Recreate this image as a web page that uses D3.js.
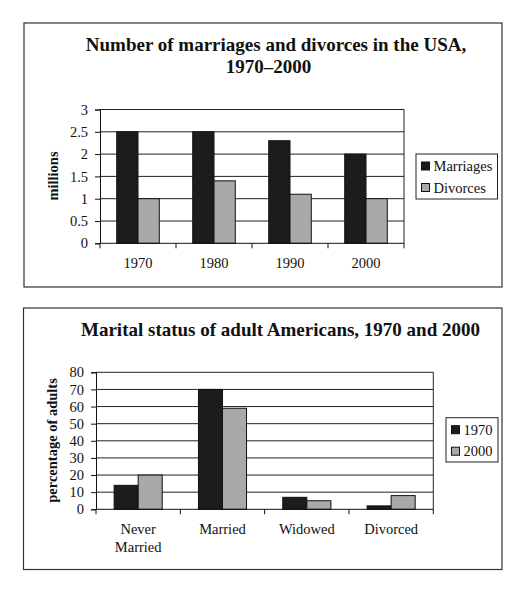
<!DOCTYPE html>
<html><head>
<meta charset="utf-8">
<script src="https://d3js.org/d3.v7.min.js"></script>
<style>
  body { margin: 0; background: #fff; }
  svg text { font-family: "Liberation Serif", "Times New Roman", serif; fill: #111; }
</style>
</head>
<body>
<svg id="chart" width="530" height="602"></svg>
<script>
// chart 1: marriages and divorces (millions)
const years = ["1970", "1980", "1990", "2000"];
const marriages = [2.5, 2.5, 2.3, 2.0];
const divorces = [1.0, 1.4, 1.1, 1.0];
const series1 = ["Marriages", "Divorces"];
const ticks1 = [0, 0.5, 1, 1.5, 2, 2.5, 3];

// chart 2: marital status (% of adults)
const statuses = ["Never Married", "Married", "Widowed", "Divorced"];
const pct1970 = [14, 70, 7, 2];
const pct2000 = [20, 59, 5, 8];
const series2 = ["1970", "2000"];
const ticks2 = [0, 10, 20, 30, 40, 50, 60, 70, 80];

const colors = ["#1c1c1c", "#a9a9a9"];
const svg = d3.select("#chart");

function drawChart(cfg) {
  const g = svg.append("g");

  // outer frame
  g.append("rect")
    .attr("x", cfg.frame[0]).attr("y", cfg.frame[1])
    .attr("width", cfg.frame[2] - cfg.frame[0]).attr("height", cfg.frame[3] - cfg.frame[1])
    .attr("fill", "none").attr("stroke", "#333").attr("stroke-width", 1.2);

  // title lines
  cfg.title.forEach((t, i) => {
    g.append("text")
      .attr("x", t.x).attr("y", t.y)
      .attr("text-anchor", "middle")
      .style("font-weight", "bold").style("font-size", cfg.titleSize + "px")
      .text(t.text);
  });

  const x0 = d3.scaleBand().domain(cfg.cats).range([cfg.left, cfg.right]);
  const bw = x0.bandwidth();
  const x1 = d3.scaleBand().domain(cfg.series).range([bw * cfg.gap, bw * (1 - cfg.gap)]);
  const y = d3.scaleLinear().domain([0, cfg.ymax]).range([cfg.bottom, cfg.top]);

  // gridlines
  g.append("g").selectAll("line").data(cfg.ticks.slice(1)).join("line")
    .attr("x1", cfg.left).attr("x2", cfg.right)
    .attr("y1", d => y(d)).attr("y2", d => y(d))
    .attr("stroke", "#222").attr("stroke-width", 1);
  // right border
  g.append("line")
    .attr("x1", cfg.right).attr("x2", cfg.right)
    .attr("y1", cfg.top).attr("y2", cfg.bottom)
    .attr("stroke", "#222");

  // bars
  const groups = g.append("g").selectAll("g").data(cfg.cats).join("g")
    .attr("transform", d => `translate(${x0(d)},0)`);
  groups.selectAll("rect")
    .data((d, i) => cfg.series.map((s, j) => ({ s: s, v: cfg.values[j][i] })))
    .join("rect")
    .attr("x", d => x1(d.s)).attr("width", x1.bandwidth())
    .attr("y", d => y(d.v)).attr("height", d => y(0) - y(d.v))
    .attr("fill", (d, j) => colors[j])
    .attr("stroke", "#111").attr("stroke-width", 1);

  // y axis
  const yAxis = g.append("g")
    .attr("transform", `translate(${cfg.left},0)`)
    .call(d3.axisLeft(y).tickValues(cfg.ticks).tickSize(5).tickPadding(7).tickFormat(d3.format("")));
  yAxis.select(".domain").attr("stroke", "#111");
  yAxis.selectAll(".tick line").attr("stroke", "#111");
  yAxis.selectAll(".tick text").style("font-size", "14.5px").attr("fill", "#111");

  // x axis: ticks at category boundaries
  g.append("line")
    .attr("x1", cfg.left).attr("x2", cfg.right)
    .attr("y1", cfg.bottom).attr("y2", cfg.bottom)
    .attr("stroke", "#111");
  const bounds = cfg.cats.map(c => x0(c)).concat([cfg.right]);
  g.append("g").selectAll("line").data(bounds).join("line")
    .attr("x1", d => d).attr("x2", d => d)
    .attr("y1", cfg.bottom).attr("y2", cfg.bottom + 5)
    .attr("stroke", "#111");
  const labels = g.append("g").selectAll("text").data(cfg.cats).join("text")
    .attr("x", d => x0(d) + bw / 2)
    .attr("y", cfg.bottom + 25)
    .attr("text-anchor", "middle")
    .style("font-size", "14.5px");
  labels.each(function(d) {
    const words = d.split(" ");
    const t = d3.select(this);
    words.forEach((w, i) => {
      t.append("tspan").attr("x", x0(d) + bw / 2).attr("dy", i === 0 ? 0 : 17.7).text(w);
    });
  });

  // y axis label
  g.append("text")
    .attr("transform", `translate(${cfg.ylabX},${cfg.ylabY}) rotate(-90)`)
    .attr("text-anchor", "middle")
    .style("font-weight", "bold").style("font-size", "14.5px")
    .text(cfg.ylabel);

  // legend
  const L = cfg.legend;
  g.append("rect")
    .attr("x", L.x).attr("y", L.y).attr("width", L.w).attr("height", L.h)
    .attr("fill", "#fff").attr("stroke", "#222").attr("stroke-width", 1);
  cfg.series.forEach((s, j) => {
    g.append("rect")
      .attr("x", L.x + 5.5).attr("y", L.y + 8 + j * 21.5)
      .attr("width", 8).attr("height", 8)
      .attr("fill", colors[j]).attr("stroke", "#111");
    g.append("text")
      .attr("x", L.x + 17.5).attr("y", L.y + 17 + j * 21.5)
      .style("font-size", "14.5px")
      .text(s);
  });
}

drawChart({
  frame: [24, 23, 502, 287],
  title: [
    { text: "Number of marriages and divorces in the USA,", x: 276, y: 51 },
    { text: "1970\u20132000", x: 268.5, y: 73 }
  ],
  titleSize: 19,
  cats: years, series: series1, values: [marriages, divorces],
  ymax: 3, ticks: ticks1,
  left: 100, right: 404, top: 109.5, bottom: 243.3, gap: 0.22,
  ylabel: "millions", ylabX: 58, ylabY: 176,
  legend: { x: 416, y: 154, w: 81.5, h: 45 }
});

drawChart({
  frame: [23.5, 308, 502, 569.5],
  title: [
    { text: "Marital status of adult Americans, 1970 and 2000", x: 280.5, y: 335.5 }
  ],
  titleSize: 19,
  cats: statuses, series: series2, values: [pct1970, pct2000],
  ymax: 80, ticks: ticks2,
  left: 96, right: 433.3, top: 372.3, bottom: 509.3, gap: 0.215,
  ylabel: "percentage of adults", ylabX: 57, ylabY: 440.5,
  legend: { x: 446, y: 417.7, w: 52, h: 44.3 }
});
</script>
</body>
</html>
